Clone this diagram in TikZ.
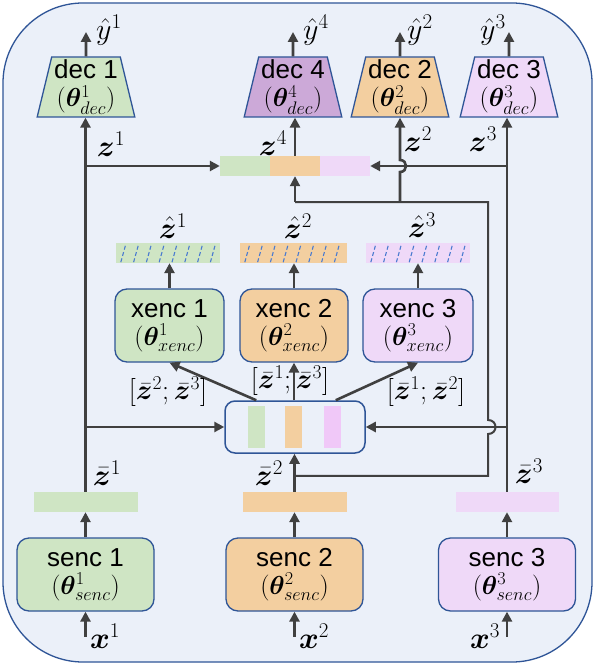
\RequirePackage{fix-cm}
\documentclass[tikz,border=0pt]{standalone}
\usepackage{fontspec}
\setmainfont{Liberation Sans}
\usepackage{amsmath,bm}
\usetikzlibrary{arrows.meta,shapes.geometric,calc}
\definecolor{bgc}{HTML}{EBF0F9}
\definecolor{bdc}{HTML}{2F5597}
\definecolor{gc}{HTML}{CFE5C4}
\definecolor{oc}{HTML}{F3CFA0}
\definecolor{lc}{HTML}{EFD9F8}
\definecolor{pc}{HTML}{CCA9D8}
\definecolor{lpc}{HTML}{F0C8F8}
\definecolor{ac}{HTML}{404040}
\definecolor{hc}{HTML}{4A7BD0}
\begin{document}
\begin{tikzpicture}[x=1pt,y=-1pt,
  arr/.style={draw=ac, line width=2.6pt, -{Triangle[length=10pt,width=10pt]}},
  rline/.style={draw=ac, line width=2pt},
  outer/.style={draw=bdc, fill=bgc, line width=1.3pt, rounded corners=80pt},
  txt/.style={font=\fontsize{26}{28}\selectfont, align=center, inner sep=0pt},
  lab/.style={font=\fontsize{30}{34}\selectfont, inner sep=0pt},
  blab/.style={font=\fontsize{28}{32}\selectfont, inner sep=0pt},
  decbox/.style={txt, trapezium, trapezium left angle=76, trapezium right angle=76,
    trapezium stretches=true, draw=bdc, line width=1.3pt, minimum height=60pt, minimum width=98pt},
  encbox/.style={txt, draw=bdc, line width=1.3pt, rounded corners=12pt, minimum height=73pt},
  bar/.style={inner sep=0pt, minimum height=20pt},
  hatch/.style={draw=hc, line width=1.1pt, dash pattern=on 4pt off 2.5pt}
]
\useasboundingbox (0,0) rectangle (595,666);
\draw[outer] (3,3) rectangle (592,662);

% decoders
\node[decbox, fill=gc] (dec1) at (86,87) {dec 1\\$(\bm{\theta}^1_{dec})$};
\node[decbox, fill=pc] (dec4) at (293,87) {dec 4\\$(\bm{\theta}^4_{dec})$};
\node[decbox, fill=oc] (dec2) at (400,87) {dec 2\\$(\bm{\theta}^2_{dec})$};
\node[decbox, fill=lc] (dec3) at (509,87) {dec 3\\$(\bm{\theta}^3_{dec})$};

\coordinate (o1) at (86,32);
\coordinate (o4) at (293,32);
\coordinate (o2) at (400,32);
\coordinate (o3) at (509,32);
\draw[arr] (dec1.north) -- (o1);
\draw[arr] (dec4.north) -- (o4);
\draw[arr] (dec2.north) -- (o2);
\draw[arr] (dec3.north) -- (o3);
\node[lab] (ly1) at (109,30) {$\hat{y}^1$};
\node[lab] (ly4) at (316,30) {$\hat{y}^4$};
\node[lab] (ly2) at (420,30) {$\hat{y}^2$};
\node[lab] (ly3) at (493,30) {$\hat{y}^3$};

% z4 bar
\node[bar, fill=gc, minimum width=50pt] (z4a) at (245,166) {};
\node[bar, fill=oc, minimum width=50pt] (z4b) at (295,166) {};
\node[bar, fill=lc, minimum width=50pt] (z4c) at (345,166) {};

% xenc hat bars
\node[bar, fill=gc, minimum width=104pt] (zh1) at (168,253) {};
\node[bar, fill=oc, minimum width=107pt] (zh2) at (293.5,253) {};
\node[bar, fill=lc, minimum width=104pt] (zh3) at (418,253) {};
\foreach \b in {zh1,zh2,zh3}{
  \foreach \i in {0,...,7}{
    \draw[hatch] ($(\b.south west)+(5+12.8*\i,-1)$) -- ++(5,-18);
  }
}
\node[lab] (lzh1) at (173,226) {$\hat{\bm{z}}^1$};
\node[lab] (lzh2) at (298,226) {$\hat{\bm{z}}^2$};
\node[lab] (lzh3) at (422,225) {$\hat{\bm{z}}^3$};

% xenc
\node[encbox, fill=gc, minimum width=109pt] (xenc1) at (169.5,325.5) {xenc 1\\$(\bm{\theta}^1_{xenc})$};
\node[encbox, fill=oc, minimum width=108pt] (xenc2) at (294,325.5) {xenc 2\\$(\bm{\theta}^2_{xenc})$};
\node[encbox, fill=lc, minimum width=110pt] (xenc3) at (418,325.5) {xenc 3\\$(\bm{\theta}^3_{xenc})$};
\draw[arr] (xenc1.north) -- (xenc1.north |- zh1.south);
\draw[arr] (xenc2.north) -- (xenc2.north |- zh2.south);
\draw[arr] (xenc3.north) -- (xenc3.north |- zh3.south);

% concat box
\node[draw=bdc, fill=bgc, line width=1.5pt, rounded corners=10pt, minimum width=140pt, minimum height=52pt] (cat) at (295,427) {};
\node[bar, fill=gc, minimum width=17pt, minimum height=42pt] (cg) at (256.5,427) {};
\node[bar, fill=oc, minimum width=17pt, minimum height=42pt] (co) at (293.5,427) {};
\node[bar, fill=lpc, minimum width=17pt, minimum height=42pt] (cl) at (332.5,427) {};
\draw[arr] ($(cat.north west)+(32,0)$) -- (xenc1.south);
\draw[arr] (cat.north -| xenc2.south) -- (xenc2.south);
\draw[arr] ($(cat.north east)+(-30,0)$) -- (xenc3.south);
\node[blab] (lb1) at (168,392) {$[\bar{\bm{z}}^2;\bar{\bm{z}}^3]$};
\node[blab] (lb2) at (290,381) {$[\bar{\bm{z}}^1;\bar{\bm{z}}^3]$};
\node[blab] (lb3) at (426,392) {$[\bar{\bm{z}}^1;\bar{\bm{z}}^2]$};

% senc
\node[encbox, fill=gc, minimum width=137pt] (senc1) at (85.5,574.5) {senc 1\\$(\bm{\theta}^1_{senc})$};
\node[encbox, fill=oc, minimum width=137pt] (senc2) at (294.5,574.5) {senc 2\\$(\bm{\theta}^2_{senc})$};
\node[encbox, fill=lc, minimum width=137pt] (senc3) at (507,574.5) {senc 3\\$(\bm{\theta}^3_{senc})$};
\node[bar, fill=gc, minimum width=104pt] (zb1) at (85.5,502) {};
\node[bar, fill=oc, minimum width=104pt] (zb2) at (294.5,502) {};
\node[bar, fill=lc, minimum width=103pt] (zb3) at (507,502) {};
\draw[arr] (senc1.north) -- (zb1.south);
\draw[arr] (senc2.north) -- (zb2.south);
\draw[arr] (senc3.north) -- (zb3.south);
\coordinate (in1) at ($(senc1.south)+(0,25)$);
\coordinate (in2) at ($(senc2.south)+(0,25)$);
\coordinate (in3) at ($(senc3.south)+(0,25)$);
\draw[arr] (in1) -- (senc1.south);
\draw[arr] (in2) -- (senc2.south);
\draw[arr] (in3) -- (senc3.south);
\node[lab] (lx1) at (105,636) {$\bm{x}^1$};
\node[lab] (lx2) at (314,636) {$\bm{x}^2$};
\node[lab] (lx3) at (485,636) {$\bm{x}^3$};
\node[lab] (lzb1) at (107,473) {$\bar{\bm{z}}^1$};
\node[lab] (lzb2) at (269,473) {$\bar{\bm{z}}^2$};
\node[lab] (lzb3) at (529,471) {$\bar{\bm{z}}^3$};

% z1 column
\draw[arr] (zb1.north) -- (zb1.north |- dec1.south);
\draw[arr] (zb1.north |- z4a.west) -- (z4a.west);
\draw[arr] (zb1.north |- cat.west) -- (cat.west);
% z3 column
\draw[arr] (zb3.north) -- (zb3.north |- dec3.south);
\draw[arr] (zb3.north |- z4c.east) -- (z4c.east);
\draw[arr] (zb3.north |- cat.east) -- (cat.east);
% z2 routing
\draw[arr] (zb2.north) -- (zb2.north |- cat.south);
\coordinate (j2) at ($(zb2.north)+(0,-16)$);
\coordinate (rc) at (488,202);
\draw[rline] (j2) -- (j2 -| rc) -- ($(rc |- cat.east)+(0,7)$)
  .. controls +(10,0) and +(10,0) .. ($(rc |- cat.east)+(0,-7)$) -- (rc) -- (rc -| z4b.south);
\draw[arr, line width=2pt] (rc -| z4b.south) -- (z4b.south);
\draw[arr] (rc -| dec2.south) -- ($(dec2.south |- z4c.east)+(0,6)$)
  .. controls +(8,0) and +(8,0) .. ($(dec2.south |- z4c.east)+(0,-6)$) -- (dec2.south);
\draw[arr] (z4b.north) -- (z4b.north |- dec4.south);

\node[lab] (lz1) at (111,144) {$\bm{z}^1$};
\node[lab] (lz4) at (273,143) {$\bm{z}^4$};
\node[lab] (lz2) at (418,139) {$\bm{z}^2$};
\node[lab] (lz3) at (483,139) {$\bm{z}^3$};
\end{tikzpicture}
\end{document}
